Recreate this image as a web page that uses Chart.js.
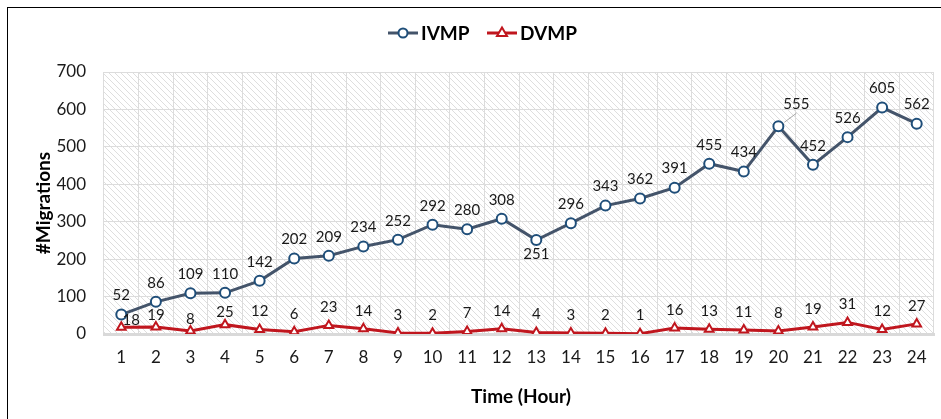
<!DOCTYPE html>
<html>
<head>
<meta charset="utf-8">
<script src="https://cdn.jsdelivr.net/npm/chart.js@4.4.0/dist/chart.umd.min.js"></script>
<style>
  html, body { margin: 0; padding: 0; background: #fff; }
  #wrap { position: relative; width: 941px; height: 419px; }
  #frame { position: absolute; left: 7px; top: 7px; width: 940px; height: 420px;
           border-left: 1.5px solid #000; border-top: 1.5px solid #000; pointer-events: none; }
</style>
</head>
<body>
<div id="wrap">
  <canvas id="chart" width="941" height="419"></canvas>
  <div id="frame"></div>
</div>
<script>
const hours = ['1','2','3','4','5','6','7','8','9','10','11','12','13','14','15','16','17','18','19','20','21','22','23','24'];
const ivmp = [52, 86, 109, 110, 142, 202, 209, 234, 252, 292, 280, 308, 251, 296, 343, 362, 391, 455, 434, 555, 452, 526, 605, 562];
const dvmp = [18, 19, 8, 25, 12, 6, 23, 14, 3, 2, 7, 14, 4, 3, 2, 1, 16, 13, 11, 8, 19, 31, 12, 27];
const yTicks = [0, 100, 200, 300, 400, 500, 600, 700];

const FONT = 'Lato, "Open Sans", sans-serif';

// diagonal hatch used for the plot area
function makeHatch() {
    const c = document.createElement('canvas');
    c.width = 6; c.height = 6;
    const g = c.getContext('2d');
    g.fillStyle = '#fff';
    g.fillRect(0, 0, 6, 6);
    g.strokeStyle = '#dedede';
    g.lineWidth = 1;
    g.beginPath();
    g.moveTo(-1, -1); g.lineTo(7, 7);
    g.moveTo(-1, 5); g.lineTo(1, 7);
    g.moveTo(5, -1); g.lineTo(7, 1);
    g.stroke();
    return c;
}

const hatchPlugin = {
    id: 'hatch',
    beforeDraw(chart) {
        const { ctx, chartArea: a } = chart;
        ctx.save();
        ctx.fillStyle = ctx.createPattern(makeHatch(), 'repeat');
        ctx.fillRect(a.left, a.top, a.right - a.left, a.bottom - a.top);
        ctx.restore();
    }
};

const labelPlugin = {
    id: 'labels',
    afterDatasetsDraw(chart) {
        const ctx = chart.ctx;
        ctx.save();
        ctx.font = '15px ' + FONT;
        ctx.fillStyle = '#1a1a1a';
        ctx.textAlign = 'center';
        ctx.textBaseline = 'middle';
        const m0 = chart.getDatasetMeta(0);
        m0.data.forEach((pt, i) => {
            let x = pt.x, y = pt.y - 19;
            if (i === 12) y = pt.y + 14;
            if (i === 19) {
                ctx.strokeStyle = '#a6a6a6';
                ctx.lineWidth = 1;
                ctx.beginPath();
                ctx.moveTo(pt.x + 6, pt.y - 4);
                ctx.lineTo(pt.x + 18, pt.y - 13);
                ctx.stroke();
                x = pt.x + 18; y = pt.y - 22;
            }
            ctx.fillText(ivmp[i], x, y);
        });
        const m1 = chart.getDatasetMeta(1);
        m1.data.forEach((pt, i) => {
            let x = pt.x, y = pt.y - 18;
            if (i === 0) { x = pt.x + 10; y = pt.y - 7; }
            else if (i < 4) y = pt.y - 12;
            ctx.fillText(dvmp[i], x, y);
        });
        ctx.restore();
    }
};

const titlePlugin = {
    id: 'titles',
    afterDraw(chart) {
        const ctx = chart.ctx;
        ctx.save();
        ctx.fillStyle = '#000';
        ctx.font = 'bold 19px ' + FONT;
        ctx.textAlign = 'center';
        ctx.textBaseline = 'middle';
        ctx.fillText('Time (Hour)', 521, 397);
        ctx.translate(44, 203);
        ctx.rotate(-Math.PI / 2);
        ctx.fillText('#Migrations', 0, 0);
        ctx.restore();

        // legend
        ctx.save();
        ctx.lineWidth = 3;
        ctx.strokeStyle = '#44546A';
        ctx.beginPath(); ctx.moveTo(388, 33); ctx.lineTo(418, 33); ctx.stroke();
        ctx.lineWidth = 2;
        ctx.strokeStyle = '#1F4E79';
        ctx.fillStyle = '#fff';
        ctx.beginPath(); ctx.arc(403, 33, 4.5, 0, Math.PI * 2); ctx.fill(); ctx.stroke();
        ctx.lineWidth = 3;
        ctx.strokeStyle = '#C0161E';
        ctx.beginPath(); ctx.moveTo(487, 33); ctx.lineTo(517, 33); ctx.stroke();
        ctx.lineWidth = 2;
        ctx.beginPath();
        ctx.moveTo(502, 27.5); ctx.lineTo(507, 36); ctx.lineTo(497, 36); ctx.closePath();
        ctx.fill(); ctx.stroke();
        ctx.fillStyle = '#000';
        ctx.font = 'bold 19px ' + FONT;
        ctx.textBaseline = 'middle';
        ctx.textAlign = 'left';
        ctx.fillText('IVMP', 421, 34);
        ctx.fillText('DVMP', 520, 34);
        ctx.restore();
    }
};

new Chart(document.getElementById('chart'), {
    type: 'line',
    data: {
        labels: hours,
        datasets: [
            {
                label: 'IVMP',
                data: ivmp,
                borderColor: '#44546A',
                borderWidth: 3,
                pointStyle: 'circle',
                pointRadius: 5,
                pointBorderWidth: 2,
                pointBorderColor: '#1F4E79',
                pointBackgroundColor: '#fff'
            },
            {
                label: 'DVMP',
                data: dvmp,
                borderColor: '#C0161E',
                borderWidth: 3,
                pointStyle: 'triangle',
                pointRadius: 5,
                pointBorderWidth: 2,
                pointBorderColor: '#C0161E',
                pointBackgroundColor: '#fff'
            }
        ]
    },
    options: {
        responsive: false,
        animation: false,
        layout: { padding: { top: 72, right: 7, left: 0, bottom: 0 } },
        plugins: {
            legend: { display: false },
            tooltip: { enabled: false }
        },
        scales: {
            x: {
                offset: true,
                grid: { offset: true, color: '#dcdcdc', lineWidth: 1, drawTicks: false },
                border: { color: '#d9d9d9', width: 3 },
                ticks: { color: '#1a1a1a', font: { size: 17, family: FONT }, padding: 13 },
                afterFit(s) { s.height = 85; }
            },
            y: {
                min: 0,
                max: 700,
                afterBuildTicks(s) { s.ticks = yTicks.map(v => ({ value: v })); },
                grid: { color: '#dcdcdc', lineWidth: 1, drawTicks: false },
                border: { display: false },
                ticks: { color: '#1a1a1a', font: { size: 17, family: FONT }, padding: 18 },
                afterFit(s) { s.width = 104; }
            }
        }
    },
    plugins: [hatchPlugin, labelPlugin, titlePlugin]
});
</script>
</body>
</html>
